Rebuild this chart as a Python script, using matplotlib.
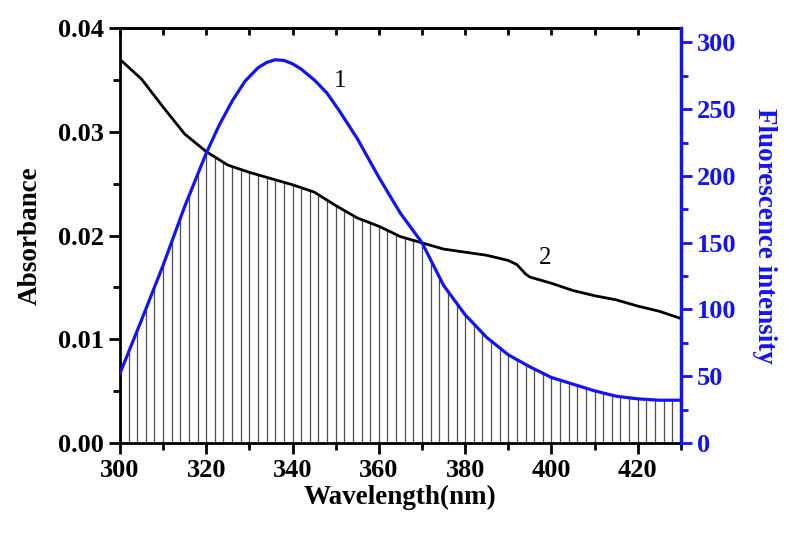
import numpy as np
import matplotlib
matplotlib.use("Agg")
import matplotlib.pyplot as plt

plt.rcParams['font.family'] = ['Liberation Serif', 'DejaVu Serif']
plt.rcParams['font.weight'] = 'bold'

# fluorescence (curve 1, right axis)
wl_fl = [300, 305, 310, 315, 320, 323, 326, 329, 332, 334, 336, 338, 340, 342,
         345, 348, 351, 355, 360, 365, 370, 375, 380, 385, 390, 395, 400, 405,
         410, 415, 420, 425, 430]
fl = [52, 92, 133, 177, 217, 238, 256, 271, 281, 285, 287, 286.5, 284, 280,
      272, 262, 248, 228, 199, 172, 150, 118, 96, 79, 66, 57, 49, 44,
      39, 35, 33, 32, 32]

# absorbance (curve 2, left axis)
wl_ab = [300, 305, 310, 315, 320, 325, 330, 335, 340, 345, 350, 355, 360, 365,
         370, 375, 380, 385, 390, 392, 394, 395, 400, 405, 410, 415, 420, 425, 430]
ab = [0.0370, 0.0351, 0.0324, 0.0298, 0.0281, 0.0268, 0.0261, 0.0255, 0.0249,
      0.0242, 0.0229, 0.0217, 0.0209, 0.0199, 0.0193, 0.0187, 0.0184, 0.0181,
      0.0176, 0.0172, 0.0163, 0.0160, 0.0154, 0.0147, 0.0142, 0.0138, 0.0132,
      0.0127, 0.0120]

ab_max = 0.04
fl_max = 310.6
blue = '#1414f0'

fig = plt.figure(figsize=(7.89, 5.33), dpi=100)
ax = fig.add_axes([0.152, 0.169, 0.711, 0.778])
ax2 = ax.twinx()

# overlap hatching: vertical lines up to the lower of the two curves
hx = np.arange(300, 431, 2)
fl_in_ab = np.interp(hx, wl_fl, fl) / fl_max * ab_max
top = np.minimum(np.interp(hx, wl_ab, ab), fl_in_ab)
ax.vlines(hx, 0, top, colors='#4d4d4d', linewidth=0.9)

ax.plot(wl_ab, ab, color='black', linewidth=2)
ax2.plot(wl_fl, fl, color=blue, linewidth=2.3)

ax.set_xlim(300, 430)
ax.set_ylim(0, ab_max)
ax2.set_ylim(0, fl_max)

ax.set_xticks(range(300, 430, 20))
ax.set_xticks(range(310, 431, 20), minor=True)
ax.set_yticks([0, 0.01, 0.02, 0.03, 0.04])
ax.set_yticklabels(['0.00', '0.01', '0.02', '0.03', '0.04'])
ax.set_yticks([0.005, 0.015, 0.025, 0.035], minor=True)
ax2.set_yticks(range(0, 301, 50))
ax2.set_yticks(range(25, 301, 50), minor=True)

ax.tick_params(axis='both', which='major', labelsize=19, width=2, length=8, direction='out')
ax.tick_params(axis='both', which='minor', width=2, length=5, direction='out')
ax2.tick_params(axis='y', which='major', labelsize=19, width=2, length=8,
                colors=blue, direction='out')
ax2.tick_params(axis='y', which='minor', width=2, length=5,
                colors=blue, direction='out')

secx = ax.secondary_xaxis('top')
secx.set_xticks(range(300, 431, 10))
secx.tick_params(direction='in', length=5, width=2, labeltop=False)

for s in ['left', 'bottom', 'top']:
    ax.spines[s].set_linewidth(2)
ax2.spines['right'].set_color(blue)
ax2.spines['right'].set_linewidth(2.5)
for s in ['left', 'bottom', 'top']:
    ax2.spines[s].set_visible(False)
secx.spines['top'].set_linewidth(2)

for lab in ax.get_xticklabels() + ax.get_yticklabels() + ax2.get_yticklabels():
    lab.set_fontweight('bold')

ax.set_xlabel('Wavelength(nm)', fontsize=19.5, fontweight='bold', labelpad=2)
ax.set_ylabel('Absorbance', fontsize=19.5, fontweight='bold', labelpad=11)
ax2.set_ylabel('Fluorescence intensity', fontsize=19.5, fontweight='bold',
               color=blue, rotation=270, labelpad=29)

ax.text(351, 0.0349, '1', fontsize=18, fontweight='normal', ha='center', va='center')
ax.text(398.5, 0.0178, '2', fontsize=18, fontweight='normal', ha='center', va='center')

fig.savefig('out.png', dpi=100)
